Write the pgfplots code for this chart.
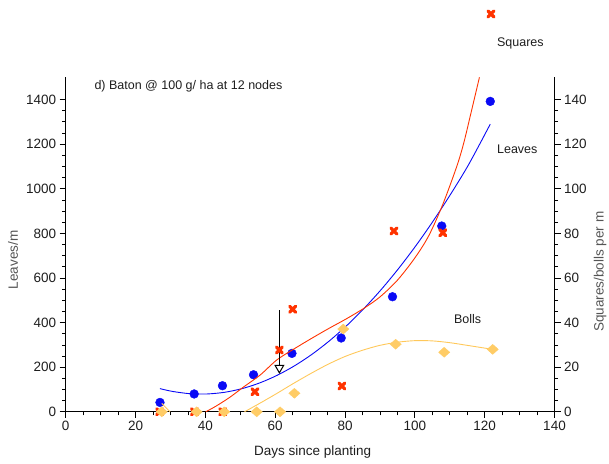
\documentclass[border=0pt]{standalone}
\usepackage{fontspec}
\setmainfont{Liberation Sans}
\usepackage{pgfplots}
\pgfplotsset{compat=1.18}
\usetikzlibrary{arrows.meta}

\definecolor{cblue}{RGB}{10,10,245}
\definecolor{cred}{RGB}{255,51,0}
\definecolor{corange}{RGB}{255,204,102}
\definecolor{corangeline}{RGB}{255,200,90}
\definecolor{cgray}{RGB}{85,85,85}
\definecolor{ctext}{RGB}{30,30,30}

\begin{document}
\begin{tikzpicture}
\useasboundingbox (-65.7pt,-51.2pt) rectangle (543.3pt,411.8pt);
\pgfplotsset{
  common/.style={
    scale only axis, width=488.8pt, height=334.5pt,
    xmin=0, xmax=140,
    clip=false,
    tick align=outside,
    tick style={black, line width=0.8pt},
    major tick length=6pt, minor tick length=3.5pt,
    tick label style={font=\fontsize{13.5}{16}\selectfont, text=ctext},
    /pgf/number format/assume math mode=true,
    /pgf/number format/1000 sep={},
    scaled ticks=false,
    axis line style={black, line width=0.8pt},
    label style={font=\fontsize{13.5}{16}\selectfont},
  }
}
\begin{axis}[common,
  axis x line*=bottom, axis y line*=left,
  ymin=0, ymax=1500,
  xtick={0,20,...,140}, minor x tick num=3,
  ytick={0,200,...,1400}, minor y tick num=3,
  xlabel={Days since planting},
  xlabel style={at={(axis description cs:0.505,0)}, anchor=center, yshift=-39.9pt, text=ctext},
  ylabel={Leaves/m},
  ylabel style={at={(axis description cs:0,0.454)}, anchor=center, yshift=52.7pt, text=cgray},
]
\addplot[only marks, mark=*, mark size=4.4pt, color=cblue] coordinates {
(27.0,42) (36.8,80) (44.9,117) (53.8,166) (64.8,262) (78.9,331) (93.6,516) (107.7,833) (121.6,1392)
};
\addplot[cblue, line width=0.9pt, smooth, no marks] coordinates {
(27.0,104) (30.5,91.6) (35.5,81.3) (40.5,80) (45.5,87.5) (50.5,103.9) (55.5,129.1) (60.5,163.2)
(65.5,205.9) (70.5,257.5) (75.5,317.8) (80.5,386.7) (85.5,464.4) (90.5,550.7) (95.5,645.7)
(100.5,749.2) (105.5,861.4) (110.5,982.1) (115.5,1111.3) (121.6,1290)
};
\node[anchor=west, font=\fontsize{12.5}{15}\selectfont, text=ctext, inner sep=0pt] at (axis cs:8.2,1458) {d) Baton @ 100 g/ ha at 12 nodes};
\node[anchor=west, font=\fontsize{12.5}{15}\selectfont, text=ctext, inner sep=0pt] at (axis cs:123.5,1652) {Squares};
\node[anchor=west, font=\fontsize{12.5}{15}\selectfont, text=ctext, inner sep=0pt] at (axis cs:123.5,1177) {Leaves};
\node[anchor=west, font=\fontsize{12.5}{15}\selectfont, text=ctext, inner sep=0pt] at (axis cs:111.2,415) {Bolls};
\end{axis}

\begin{axis}[common,
  axis y line*=right, hide x axis,
  ymin=0, ymax=150,
  ytick={0,20,...,140}, minor y tick num=3,
  yticklabel pos=right,
  ylabel={Squares/bolls per m},
  ylabel style={at={(axis description cs:1,0.419)}, anchor=center, yshift=-45.5pt, text=cgray},
]
\addplot[only marks, mark=x, mark size=4.2pt, color=cred, mark options={line width=3.2pt, line cap=round}] coordinates {
(26.9,0) (36.9,0) (45.0,0) (54.2,9) (61.2,27.7) (65.0,46.0) (79.1,11.6) (94.0,81.1) (108.0,80.3) (121.8,178.4)
};
\addplot[cred, line width=0.9pt, smooth, no marks] coordinates {
(40.1,0) (43,2.5) (47,6.5) (51,11.2) (55.7,16.5) (60.5,23.3) (65.5,28.3) (70.5,33) (75.5,37.5)
(80.5,41.8) (85.5,46.5) (90,51.5) (95,59) (100,69) (104,79) (108,93) (112,110) (114,120.5)
(116,133.5) (118.5,150)
};
\addplot[only marks, mark=diamond*, mark size=5pt, color=corange, mark options={xscale=1.5}] coordinates {
(27.5,0) (37.5,0) (45.4,0) (54.7,0) (61.4,0) (65.5,8.3) (79.5,37.1) (94.5,30.3) (108.4,26.7) (122.3,28.0)
};
\addplot[corangeline, line width=0.9pt, no marks] coordinates {
(27.5,3.8) (29.9,0)
};
\addplot[corangeline, line width=0.9pt, smooth, no marks] coordinates {
(51.2,0) (55,3.3) (60,7.8) (65,12.5) (70,17) (75,21.2) (80,24.8) (85,27.6) (90,29.8)
(95,31.2) (100,31.9) (105,31.8) (110,31) (115,29.8) (122.3,28)
};
\draw[black, line width=1pt, -{Triangle[width=10pt, length=9pt, fill=white]}] (axis cs:61.2,45.6) -- (axis cs:61.2,17.0);
\end{axis}
\end{tikzpicture}
\end{document}
